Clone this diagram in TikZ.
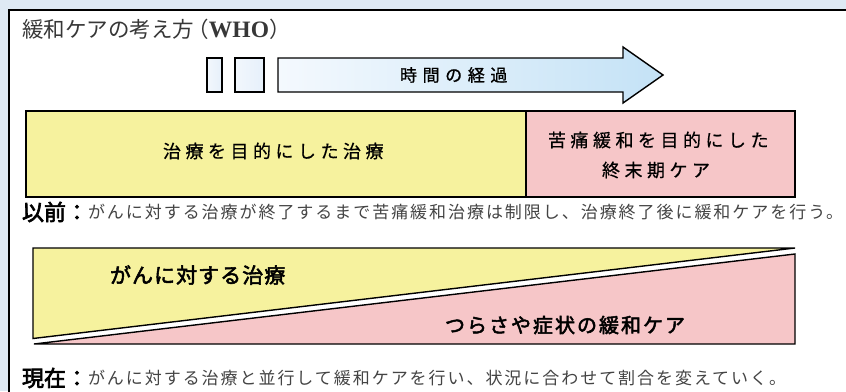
\documentclass[tikz,border=0pt]{standalone}
\usepackage{fontspec}
\newfontfamily\jp{Noto Sans CJK JP}
\newfontfamily\lser{Liberation Serif}
\definecolor{bgblue}{RGB}{222,233,244}
\definecolor{yel}{RGB}{246,242,158}
\definecolor{pnk}{RGB}{246,198,200}
\definecolor{arrL}{RGB}{244,249,254}
\definecolor{arrR}{RGB}{196,226,246}
\definecolor{boxL}{RGB}{242,247,253}
\definecolor{boxR}{RGB}{230,240,250}
\definecolor{txtgray}{RGB}{68,68,68}
\definecolor{titlegray}{RGB}{55,55,55}
\tikzset{
  outl/.style={draw=black, line width=1.4pt, line join=miter},
  lbl/.style={inner sep=0pt, outer sep=0pt, text=black},
}
\begin{document}
\begin{tikzpicture}[x=1pt,y=-1pt]
\useasboundingbox (0,0) rectangle (846,391);
\fill[bgblue] (0,0) rectangle (846,391);
\draw[fill=white, line width=1.1pt] (9,10) rectangle (880,420);
% title
\node[lbl, anchor=west, text=titlegray, font=\jp\fontsize{21.5pt}{21.5pt}\selectfont] (title) at (22,29) {緩和ケアの考え方\makebox[15pt][r]{（}{\lser\fontsize{23.5pt}{23.5pt}\selectfont\bfseries WHO}\makebox[18pt][l]{）}};
% small boxes and arrow
\path[outl, left color=boxL, right color=boxR] (207,58) rectangle (222,92);
\path[outl, left color=boxL, right color=boxR] (235,58) rectangle (264,92);
\path[outl, left color=arrL, right color=arrR] (278,58) -- (623,58) -- (623,47) -- (663,75) -- (623,103) -- (623,92) -- (278,92) -- cycle;
\node[lbl, anchor=west, font=\jp\fontsize{17pt}{17pt}\selectfont\addfontfeatures{LetterSpace=33,FakeBold=1}] (time) at (400,75) {時間の経過};
% top bar
\path[outl, fill=yel] (26,111) rectangle (526,197);
\path[outl, fill=pnk] (526,111) rectangle (795,197);
\node[lbl, anchor=west, font=\jp\fontsize{18pt}{18pt}\selectfont\addfontfeatures{LetterSpace=25,FakeBold=0.6}] (cure) at (163,151) {治療を目的にした治療};
\node[lbl, anchor=west, font=\jp\fontsize{18pt}{18pt}\selectfont\addfontfeatures{LetterSpace=25,FakeBold=0.6}] (pal1) at (548,140) {苦痛緩和を目的にした};
\node[lbl, anchor=west, font=\jp\fontsize{18pt}{18pt}\selectfont\addfontfeatures{LetterSpace=25,FakeBold=0.6}] (pal2) at (602,170) {終末期ケア};
% before line
\node[lbl, anchor=west, font=\jp\fontsize{22pt}{22pt}\selectfont\addfontfeatures{FakeBold=3}] (beforehd) at (22,212) {以前\makebox[22pt]{：}};
\node[lbl, anchor=west, text=txtgray, font=\jp\fontsize{17pt}{17pt}\selectfont\addfontfeatures{LetterSpace=11.5}] (before) at (88,212) {がんに対する治療が終了するまで苦痛緩和治療は制限し、治療終了後に緩和ケアを行う。};
% bottom diagram
\path[outl, fill=yel] (33,248) -- (795,248) -- (33,338.5) -- cycle;
\path[outl, fill=pnk] (34,344) -- (795,254) -- (795,344) -- cycle;
\node[lbl, anchor=west, font=\jp\fontsize{21pt}{21pt}\selectfont\addfontfeatures{LetterSpace=5,FakeBold=2.5}] (treat) at (110,275) {がんに対する治療};
\node[lbl, anchor=west, font=\jp\fontsize{20pt}{20pt}\selectfont\addfontfeatures{LetterSpace=10,FakeBold=2.5}] (care) at (445,325) {つらさや症状の緩和ケア};
% now line
\node[lbl, anchor=west, font=\jp\fontsize{22pt}{22pt}\selectfont\addfontfeatures{FakeBold=3}] (nowhd) at (22,378) {現在\makebox[22pt]{：}};
\node[lbl, anchor=west, text=txtgray, font=\jp\fontsize{17pt}{17pt}\selectfont\addfontfeatures{LetterSpace=11.5}] (now) at (88,378) {がんに対する治療と並行して緩和ケアを行い、状況に合わせて割合を変えていく。};
\end{tikzpicture}
\end{document}
